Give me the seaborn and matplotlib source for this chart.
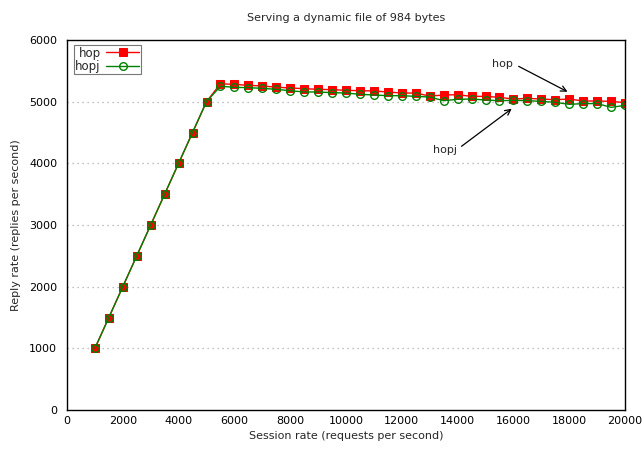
import matplotlib
matplotlib.use("Agg")
import matplotlib.pyplot as plt
import seaborn as sns
import pandas as pd

session_rate = [1000, 1500, 2000, 2500, 3000, 3500, 4000, 4500, 5000,
                5500, 6000, 6500, 7000, 7500, 8000, 8500, 9000, 9500, 10000,
                10500, 11000, 11500, 12000, 12500, 13000, 13500, 14000, 14500, 15000, 15500,
                16000, 16500, 17000, 17500, 18000, 18500, 19000, 19500, 20000]
hop = [1000, 1500, 2000, 2500, 3000, 3500, 4000, 4500, 5000,
       5290, 5280, 5265, 5254, 5235, 5222, 5211, 5200, 5195, 5184,
       5178, 5173, 5157, 5140, 5140, 5090, 5108, 5113, 5086, 5086, 5070,
       5043, 5054, 5043, 5032, 5043, 5011, 5011, 5005, 4984]
hopj = [1000, 1500, 2000, 2500, 3000, 3500, 4000, 4500, 5000,
        5250, 5233, 5227, 5216, 5200, 5178, 5157, 5157, 5146, 5140,
        5119, 5108, 5097, 5097, 5086, 5075, 5016, 5038, 5043, 5027, 5015,
        5022, 5016, 5005, 4989, 4957, 4968, 4970, 4908, 4940]
series_names = ["hop", "hopj"]
title = "Serving a dynamic file of 984 bytes"
xlabel = "Session rate (requests per second)"
ylabel = "Reply rate (replies per second)"
xticks = [0, 2000, 4000, 6000, 8000, 10000, 12000, 14000, 16000, 18000, 20000]
yticks = [0, 1000, 2000, 3000, 4000, 5000, 6000]

sns.set_style("white")
plt.rcParams["font.family"] = ["DejaVu Sans"]

df_hop = pd.DataFrame({"x": session_rate, "y": hop})
df_hopj = pd.DataFrame({"x": session_rate, "y": hopj})

fig = plt.figure(figsize=(6.43, 4.49), dpi=100)
ax = fig.add_axes([67 / 643, 39 / 449, 558 / 643, 370 / 449])

for yv in yticks[1:-1]:
    ax.axhline(yv, color="#aaaaaa", linestyle=(0, (1, 3)), linewidth=0.9, zorder=0)

sns.lineplot(data=df_hop, x="x", y="y", ax=ax, color="#ff0000", linewidth=1.0,
             marker="s", markersize=5.5, markeredgecolor="#ff0000", markerfacecolor="#ff0000",
             label=series_names[0])
sns.lineplot(data=df_hopj, x="x", y="y", ax=ax, color="#008000", linewidth=1.0,
             marker="o", markersize=5.5, markeredgecolor="#008000", markerfacecolor="none",
             markeredgewidth=1.0, label=series_names[1])

ax.set_xlim(0, 20000)
ax.set_ylim(0, 6000)
ax.set_xticks(xticks)
ax.set_yticks(yticks)
ax.tick_params(axis="x", direction="in", length=4, labelsize=8, pad=4, colors="black")
ax.tick_params(axis="y", direction="out", length=4, labelsize=8, pad=3, colors="black")
ax.set_xlabel(xlabel, fontsize=8, labelpad=4)
ax.set_ylabel(ylabel, fontsize=8, labelpad=6)
ax.set_title(title, fontsize=8, pad=14)

for s in ax.spines.values():
    s.set_color("black")
    s.set_linewidth(1.0)

ax.text(15600, 5610, "hop", fontsize=8, ha="center", va="center")
ax.annotate("", xy=(18030, 5140), xytext=(16100, 5594),
            arrowprops=dict(arrowstyle="->", color="black", lw=0.9))
ax.text(13550, 4216, "hopj", fontsize=8, ha="center", va="center")
ax.annotate("", xy=(16020, 4913), xytext=(14060, 4249),
            arrowprops=dict(arrowstyle="->", color="black", lw=0.9))

leg = ax.legend(loc="upper left", bbox_to_anchor=(0.008, 0.992), fontsize=8.5,
                markerfirst=False, frameon=True, fancybox=False, borderpad=0.1,
                handlelength=2.8, handletextpad=0.5, labelspacing=0.05, borderaxespad=0.2)
leg.get_frame().set_edgecolor("#555555")
leg.get_frame().set_linewidth(0.8)

fig.savefig("out.png", dpi=100)
